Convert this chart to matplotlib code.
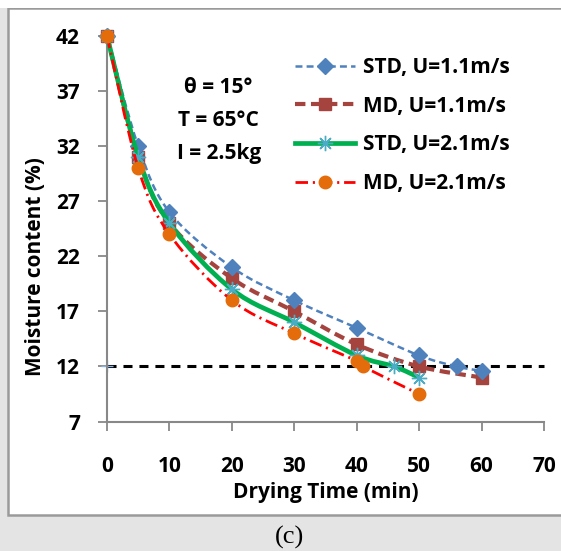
import matplotlib
matplotlib.use("Agg")
import matplotlib.pyplot as plt
from matplotlib.path import Path
from matplotlib.patches import PathPatch, Rectangle
from matplotlib.lines import Line2D
import numpy as np

FONT = 'Open Sans'
plt.rcParams['font.family'] = FONT
plt.rcParams['font.weight'] = 'bold'
plt.rcParams['lines.scale_dashes'] = False

# ---- data ----
std11_x = [0, 5, 10, 20, 30, 40, 50, 56, 60]
std11_y = [42, 32, 26, 21, 18, 15.5, 13, 12, 11.6]
md11_x = [0, 5, 10, 20, 30, 40, 50, 60]
md11_y = [42, 31, 25, 20, 17, 14, 12, 11]
std21_x = [0, 5, 10, 20, 30, 40, 46, 50]
std21_y = [42, 31, 25, 19, 16, 13, 12, 11]
md21_x = [0, 5, 10, 20, 30, 40, 41, 50]
md21_y = [42, 30, 24, 18, 15, 12.5, 12, 9.5]
labels = ["STD, U=1.1m/s", "MD, U=1.1m/s", "STD, U=2.1m/s", "MD, U=2.1m/s"]
ref_level = 12
xticks = [0, 10, 20, 30, 40, 50, 60, 70]
yticks = [7, 12, 17, 22, 27, 32, 37, 42]
note = "θ = 15°\nT = 65°C\nI = 2.5kg"

W, H = 561, 551
fig = plt.figure(figsize=(W / 100, H / 100), dpi=100, facecolor='#e4e4e4')
# white panel with grey frame (behind the axes)
fig.patches.append(Rectangle((8 / W, 1 - 515 / H), (W - 8) / W + 0.01, (515 - 8) / H,
                             transform=fig.transFigure, facecolor='white',
                             edgecolor='#9a9a9a', lw=1.8, zorder=-2))
fig.patches.append(Rectangle((0, 1 - 8 / H), 1, 8 / H, transform=fig.transFigure,
                             facecolor='white', edgecolor='none', zorder=-2))

ax_top, ax_bot = 35.8, 421.6
ax = fig.add_axes([107 / W, 1 - ax_bot / H, 437 / W, (ax_bot - ax_top) / H])
ax.set_facecolor('none')


def smooth_path(xs, ys):
    """Excel-like smoothed line: cubic Bezier through the data points."""
    xs = np.asarray(xs, float)
    ys = np.asarray(ys, float)
    n = len(xs)
    verts = [(xs[0], ys[0])]
    codes = [Path.MOVETO]
    for i in range(n - 1):
        i0 = max(i - 1, 0)
        i3 = min(i + 2, n - 1)
        c1 = (xs[i] + (xs[i + 1] - xs[i0]) / 6, ys[i] + (ys[i + 1] - ys[i0]) / 6)
        c2 = (xs[i + 1] - (xs[i3] - xs[i]) / 6, ys[i + 1] - (ys[i3] - ys[i]) / 6)
        verts += [c1, c2, (xs[i + 1], ys[i + 1])]
        codes += [Path.CURVE4] * 3
    return Path(verts, codes)


styles = [
    dict(color='#4F81BD', lw=1.8, dashes=(5, 3), marker='D', mfc='#4F81BD', mec='#4F81BD', ms=8.5, z=4),
    dict(color='#A5443F', lw=3.0, dashes=(7.5, 4), marker='s', mfc='#A5443F', mec='#A5443F', ms=8, z=3),
    dict(color='#00B050', lw=3.4, dashes=None, marker=(8, 2, 0), mfc='#4BACC6', mec='#4BACC6', ms=11, z=5),
    dict(color='#FF0000', lw=2.0, dashes=(9, 3.5, 1.5, 3.5), marker='o', mfc='#E46C0A', mec='#E46C0A', ms=9, z=6),
]
series = [(std11_x, std11_y), (md11_x, md11_y), (std21_x, std21_y), (md21_x, md21_y)]

handles = []
for (xs, ys), st, lab in zip(series, styles, labels):
    ls = '-' if st['dashes'] is None else (0, st['dashes'])
    patch = PathPatch(smooth_path(xs, ys), facecolor='none', edgecolor=st['color'],
                      lw=st['lw'], linestyle=ls, zorder=st['z'], capstyle='butt')
    ax.add_patch(patch)
    ax.plot(xs, ys, linestyle='none', marker=st['marker'], ms=st['ms'],
            mfc=st['mfc'], mec=st['mec'], mew=1, zorder=st['z'] + 0.5, clip_on=False)
    handles.append(Line2D([], [], color=st['color'], lw=st['lw'], linestyle=ls,
                          marker=st['marker'], ms=st['ms'], mfc=st['mfc'],
                          mec=st['mec'], mew=1))

# reference moisture line
ax.plot([0, 70], [ref_level, ref_level], color='black', lw=2.2,
        linestyle=(0, (6.5, 5)), zorder=2, clip_on=False)
ax.plot([0], [ref_level], marker='+', ms=8, color='#8DB3E2', mew=1, zorder=2, clip_on=False)

ax.set_xlim(0, 70)
ax.set_ylim(7, 42)
ax.set_xticks(xticks)
ax.set_yticks(yticks)
ax.tick_params(axis='x', length=6.5, width=1.3, color='#888888', pad=18, labelsize=15)
ax.tick_params(axis='y', length=6.5, width=1.3, color='#888888', pad=13, labelsize=15)
for t in ax.get_xticklabels() + ax.get_yticklabels():
    t.set_fontweight('bold')
for s in ['top', 'right']:
    ax.spines[s].set_visible(False)
for s in ['left', 'bottom']:
    ax.spines[s].set_color('#888888')
    ax.spines[s].set_linewidth(1.5)

ax.set_xlabel("Drying Time (min)", fontsize=15, fontweight='bold')
ax.xaxis.set_label_coords(0.5, -(482 - ax_bot) / (ax_bot - ax_top))
ax.set_ylabel("Moisture content (%)", fontsize=15, fontweight='bold')
ax.yaxis.label.set_verticalalignment('center')
ax.yaxis.set_label_coords((36 - 107) / 437, (ax_bot - 267) / (ax_bot - ax_top))

ax.text(17.9, 34.3, note, ha='center', va='center', fontsize=15, fontweight='bold',
        linespacing=1.75)

leg = ax.legend(handles, labels, loc='upper left',
                bbox_to_anchor=((295 - 107) / 437, (ax_bot - 57) / (ax_bot - ax_top)),
                frameon=False, fontsize=15, handlelength=2.9, handletextpad=0.35,
                labelspacing=0.85, borderaxespad=0, borderpad=0)
for t in leg.get_texts():
    t.set_fontweight('bold')

fig.text(290 / W, 1 - 537 / H, "(c)", ha='center', va='center', fontsize=19,
         family='Liberation Serif', fontweight='normal')

fig.savefig("out.png", dpi=100, facecolor=fig.get_facecolor())
